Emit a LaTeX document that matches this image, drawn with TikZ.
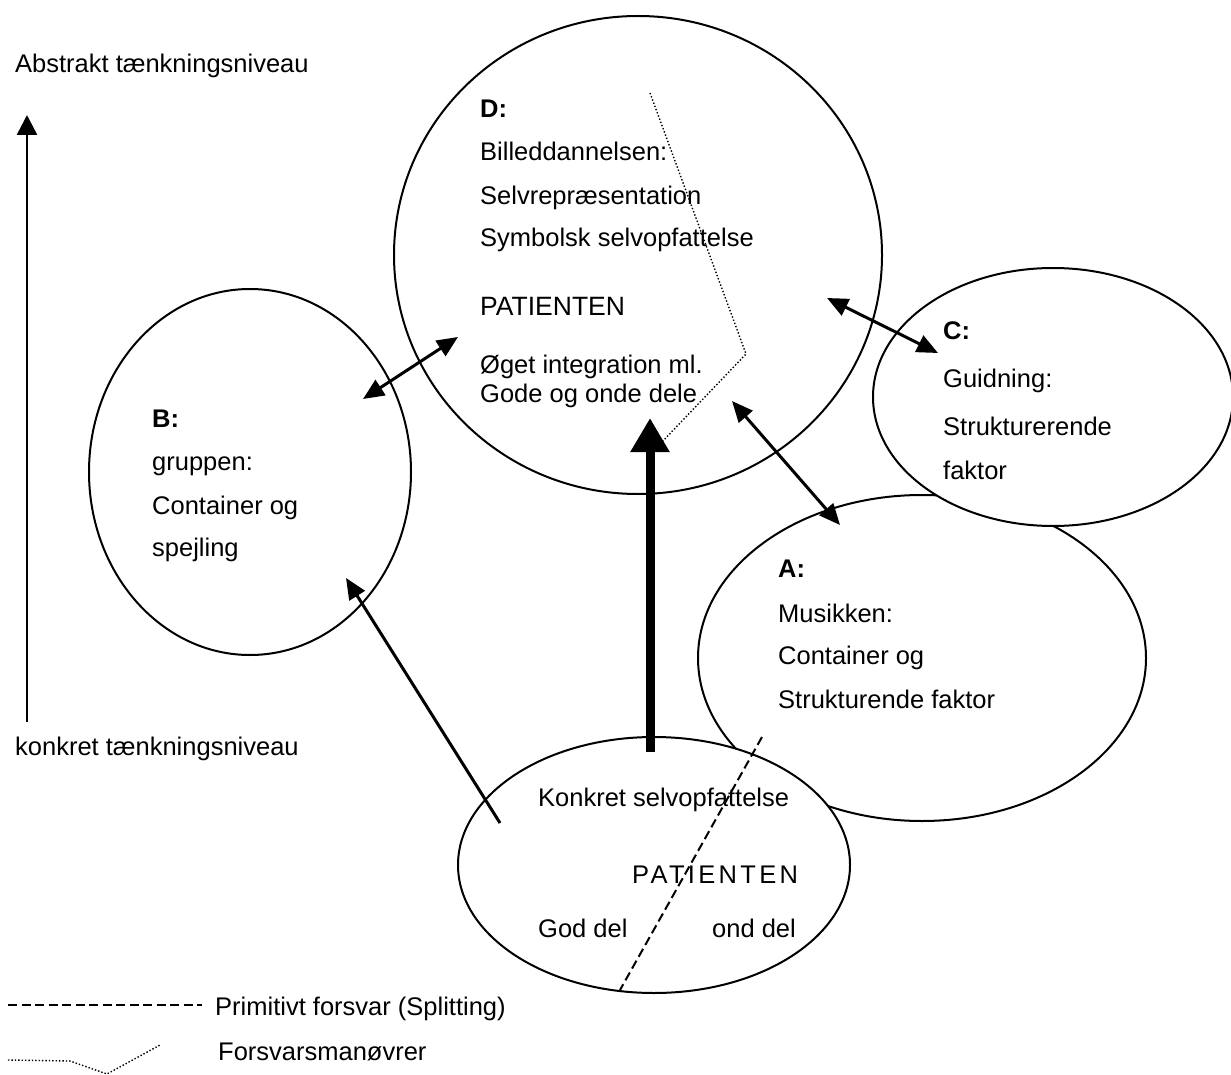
\documentclass[tikz,border=0pt]{standalone}
\usepackage{fontspec}
\setmainfont{Liberation Sans}
\usetikzlibrary{arrows.meta,shapes.geometric}

\begin{document}
\begin{tikzpicture}[x=1pt,y=-1pt,
  ring/.style={draw, line width=2pt, fill=white, ellipse, inner sep=0pt},
  lbl/.style={anchor=base west, inner sep=0pt, font=\fontsize{25.5}{30}\selectfont},
  hd/.style={anchor=base west, inner sep=0pt, font=\fontsize{25.5}{30}\selectfont\bfseries},
  twoway/.style={line width=3pt, {Triangle[length=21pt,width=18pt]}-{Triangle[length=21pt,width=18pt]}},
  oneway/.style={line width=3pt, -{Triangle[length=21pt,width=18pt]}},
  bigway/.style={line width=9pt, -{Triangle[length=34pt,width=37pt]}},
  axisway/.style={line width=2.5pt, -{Triangle[length=20pt,width=20pt]}},
  splitline/.style={line width=2pt, dash pattern=on 9pt off 4.5pt},
  defence/.style={line width=1.4pt, dash pattern=on 1.4pt off 2pt}
]
\useasboundingbox (0,0) rectangle (1231,1075);

% circles: A first, then C and the bottom patient ellipse cover it
\node[ring, minimum width=448pt, minimum height=326pt] (A) at (922,658) {};
\node[ring, minimum width=360pt, minimum height=258pt] (C) at (1053,397) {};
\node[ring, minimum width=392pt, minimum height=256pt] (P) at (654,865) {};
\node[ring, minimum width=488pt, minimum height=478pt] (D) at (638,255) {};
\node[ring, minimum width=322pt, minimum height=366pt] (B) at (250,472) {};

% vertical axis
\node[lbl] (abs) at (15,73) {Abstrakt tænkningsniveau};
\node[lbl] (kon) at (15,755) {konkret tænkningsniveau};
\coordinate (axLow) at (27,722);
\coordinate (axHigh) at (27,115);
\draw[axisway] (axLow) -- (axHigh);

% D
\node[hd]  (dH) at (480,118) {D:};
\node[lbl] (d1) at (480,161) {Billeddannelsen:};
\node[lbl] (d2) at (480,205) {Selvrepræsentation};
\node[lbl] (d3) at (480,247) {Symbolsk selvopfattelse};
\node[lbl, font=\fontsize{26.5}{30}\selectfont] (d4) at (480,316) {PATIENTEN};
\node[lbl] (d5) at (480,373) {Øget integration ml.};
\node[lbl] (d6) at (480,402) {Gode og onde dele};

% B
\node[hd]  (bH) at (152,427) {B:};
\node[lbl] (b1) at (152,470) {gruppen:};
\node[lbl] (b2) at (152,514) {Container og};
\node[lbl] (b3) at (152,556) {spejling};

% C
\node[hd]  (cH) at (943,339) {C:};
\node[lbl] (c1) at (943,387) {Guidning:};
\node[lbl] (c2) at (943,435) {Strukturerende};
\node[lbl] (c3) at (943,479) {faktor};

% A
\node[hd]  (aH) at (778,577) {A:};
\node[lbl] (a1) at (778,622) {Musikken:};
\node[lbl] (a2) at (778,664) {Container og};
\node[lbl] (a3) at (778,708) {Strukturende faktor};

% bottom patient
\node[lbl] (p1) at (538,806) {Konkret selvopfattelse};
\node[lbl, font=\fontsize{25.5}{30}\selectfont\addfontfeature{LetterSpace=13}] (p2) at (632,883) {PATIENTEN};
\node[lbl] (p3) at (538,937) {God del};
\node[lbl] (p4) at (712,937) {ond del};

% splitting line across the bottom ellipse
\coordinate (spTop) at (762,737);
\coordinate (spBot) at (620,990);
\draw[splitline] (spTop) -- (spBot);

% defence manoeuvre in D
\coordinate (dfA) at (650,93);
\coordinate (dfB) at (746,354);
\coordinate (dfC) at (660,444);
\draw[defence] (dfA) -- (dfB) -- (dfC);

% connectors
\coordinate (bD) at (363,399);
\coordinate (dB) at (458,337);
\draw[twoway] (bD) -- (dB);

\coordinate (dC) at (827,298);
\coordinate (cD) at (938,353);
\draw[twoway] (dC) -- (cD);

\coordinate (dA) at (732,401);
\coordinate (aD) at (840,525);
\draw[twoway] (dA) -- (aD);

\coordinate (pB) at (500,823);
\coordinate (bP) at (346,578);
\draw[oneway] (pB) -- (bP);

\coordinate (pD) at (650,752);
\coordinate (dP) at (650,418);
\draw[bigway] (pD) -- (dP);

% legend
\coordinate (lgA) at (8,1005);
\coordinate (lgB) at (202,1005);
\draw[splitline] (lgA) -- (lgB);
\node[lbl] (lg1) at (215,1015) {Primitivt forsvar (Splitting)};

\coordinate (lgC) at (8,1060);
\coordinate (lgD) at (70,1061);
\coordinate (lgE) at (107,1074);
\coordinate (lgF) at (160,1045);
\draw[defence] (lgC) -- (lgD) -- (lgE) -- (lgF);
\node[lbl] (lg2) at (218,1060) {Forsvarsmanøvrer};
\end{tikzpicture}
\end{document}
